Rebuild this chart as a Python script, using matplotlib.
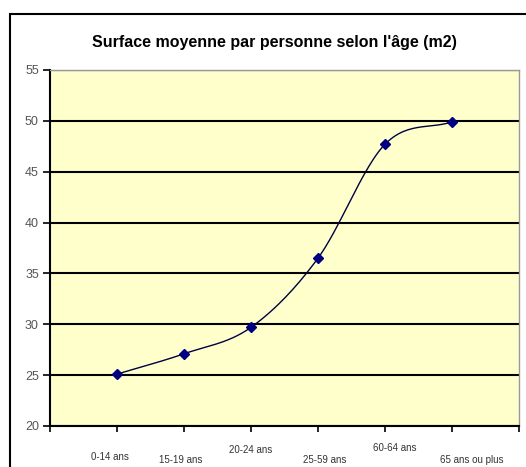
import numpy as np
import matplotlib.pyplot as plt
from matplotlib.patches import Rectangle
from matplotlib.transforms import blended_transform_factory

categories = ['0-14 ans', '15-19 ans', '20-24 ans', '25-59 ans', '60-64 ans', '65 ans ou plus']
surface = [25.1, 27.1, 29.7, 36.5, 47.7, 49.9]
yticks = [20, 25, 30, 35, 40, 45, 50, 55]

plt.rcParams['font.family'] = ['Liberation Sans', 'DejaVu Sans']


def smooth(xs, ys, n=30):
    # Catmull-Rom curve through the points, like the Excel "smoothed line"
    px = np.concatenate([[2 * xs[0] - xs[1]], xs, [2 * xs[-1] - xs[-2]]])
    py = np.concatenate([[2 * ys[0] - ys[1]], ys, [2 * ys[-1] - ys[-2]]])
    ox, oy = [], []
    t = np.linspace(0, 1, n)
    for i in range(1, len(px) - 2):
        for p, out in ((px, ox), (py, oy)):
            p0, p1, p2, p3 = p[i - 1], p[i], p[i + 1], p[i + 2]
            out.extend(0.5 * (2 * p1 + (-p0 + p2) * t
                              + (2 * p0 - 5 * p1 + 4 * p2 - p3) * t ** 2
                              + (-p0 + 3 * p1 - 3 * p2 + p3) * t ** 3))
    return np.array(ox), np.array(oy)


fig = plt.figure(figsize=(5.26, 4.67), dpi=100)
fig.patches.append(Rectangle((10 / 526, -0.1), 1.2, (467 - 14) / 467 + 0.1,
                             transform=fig.transFigure, fill=False,
                             edgecolor='black', linewidth=1.5))

ax = fig.add_axes([50 / 526, 41 / 467, 469 / 526, 356 / 467])
ax.set_facecolor('#FFFFCC')

x = np.arange(1, len(categories) + 1)
sx, sy = smooth(x.astype(float), np.array(surface))
ax.plot(sx, sy, color='#000040', linewidth=1.0, zorder=3)
ax.plot(x, surface, linestyle='none', marker='D', markersize=5,
        color='#000080', zorder=4)

ax.set_xlim(0, 7)
ax.set_ylim(20, 55)
ax.set_yticks(yticks)
ax.set_xticks(range(8))
ax.set_xticklabels([])
ax.grid(axis='y', color='black', linewidth=1.5)
ax.tick_params(axis='y', direction='out', length=5, width=1.2, labelsize=9,
               labelcolor='#555555', pad=3)
ax.tick_params(axis='x', direction='out', length=4, width=1.2)

for side in ('top', 'right'):
    ax.spines[side].set_color('#999999')
    ax.spines[side].set_linewidth(1)
for side in ('left', 'bottom'):
    ax.spines[side].set_linewidth(1.5)

# staggered category labels, as Excel drew them
trans = blended_transform_factory(ax.transData, fig.transFigure)
label_dx = [-0.1, -0.05, 0.0, 0.1, 0.15, 0.3]
label_y = [457, 460, 450, 460, 448, 460]
for xi, lab, dx, ly in zip(x, categories, label_dx, label_y):
    ax.text(xi + dx, (467 - ly) / 467, lab, transform=trans, ha='center',
            va='center', fontsize=7, color='#333333')

fig.text(274 / 526, (467 - 43) / 467, "Surface moyenne par personne selon l'âge (m2)",
         ha='center', va='center', fontsize=11.5, fontweight='bold')

fig.savefig('out.png', dpi=100)
